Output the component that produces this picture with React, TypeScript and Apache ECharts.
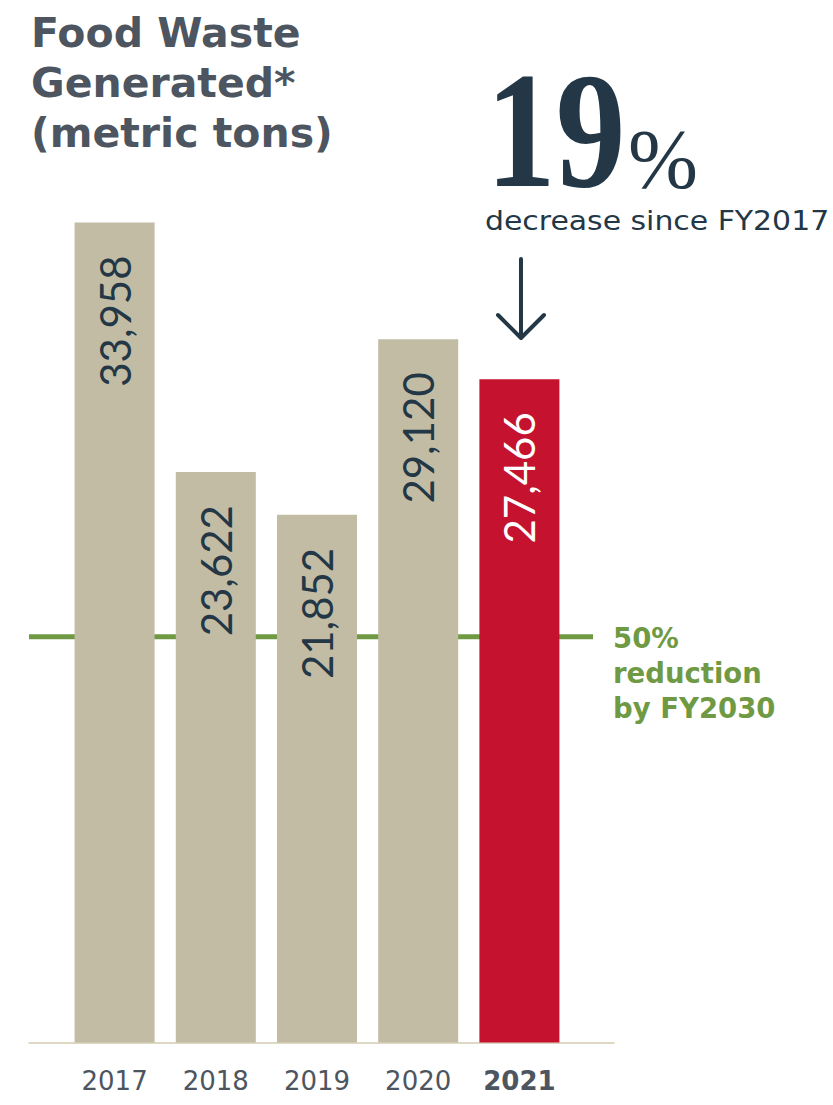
import React, { useEffect, useRef } from 'react';
import * as echarts from 'echarts';

// ---- data ----
const YEARS = ['2017', '2018', '2019', '2020', '2021'];
const WASTE = [33958, 23622, 21852, 29120, 27466];
const HIGHLIGHT_YEAR = '2021';
const TARGET = 16800; // green "50% reduction" line as drawn
const TARGET_LABEL = ['50%', 'reduction', 'by FY2030'];
const TITLE_LINES = ['Food Waste', 'Generated*', '(metric tons)'];
const CHANGE_PCT = '19';
const CHANGE_SIGN = '%';
const CHANGE_TEXT = 'decrease since FY2017';
const Y_MAX = 40000;

const TAN = '#c2bca4';
const RED = '#c4122f';
const NAVY = '#233746';
const GRAY = '#4d5560';
const GREEN = '#6f9a43';

export default function App() {
  const ref = useRef<HTMLDivElement>(null);

  useEffect(() => {
    if (!ref.current) return;
    const chart = echarts.init(ref.current, null, { renderer: 'svg' });

    const gridTop = 76.5;
    const gridBottom = 62.5;

    const option: any = {
      animation: false,
      backgroundColor: '#ffffff',
      title: {
        text: TITLE_LINES.join('\n'),
        left: 26,
        top: 3,
        textStyle: {
          fontFamily: 'DejaVu Sans',
          fontWeight: 'bold',
          fontSize: 41,
          lineHeight: 50,
          color: GRAY,
        },
      },
      grid: [
        { left: 64, width: 506, top: gridTop, bottom: gridBottom, outerBoundsMode: 'none' },
        { left: 29, right: 833 - 593, top: gridTop, bottom: gridBottom, outerBoundsMode: 'none' },
        { left: 29, right: 833 - 614, top: gridTop, bottom: gridBottom, outerBoundsMode: 'none' },
      ],
      xAxis: [
        {
          type: 'category',
          gridIndex: 0,
          data: YEARS,
          axisLine: { show: false },
          axisTick: { show: false },
          axisLabel: {
            interval: 0,
            margin: 25,
            fontFamily: 'DejaVu Sans',
            fontSize: 26,
            color: GRAY,
            formatter: (v: string) => (v === HIGHLIGHT_YEAR ? `{b|${v}}` : v),
            rich: {
              b: { fontFamily: 'DejaVu Sans', fontSize: 26, fontWeight: 'bold', color: GRAY },
            },
          },
        },
        { type: 'value', gridIndex: 1, min: 0, max: 1, show: false },
        {
          type: 'value',
          gridIndex: 2,
          min: 0,
          max: 1,
          axisLine: { show: true, onZero: false, lineStyle: { color: '#d3cbb0', width: 1.5 } },
          axisTick: { show: false },
          axisLabel: { show: false },
          splitLine: { show: false },
        },
      ],
      yAxis: [
        { type: 'value', gridIndex: 0, min: 0, max: Y_MAX, show: false },
        { type: 'value', gridIndex: 1, min: 0, max: Y_MAX, show: false },
        { type: 'value', gridIndex: 2, min: 0, max: Y_MAX, show: false },
      ],
      series: [
        {
          type: 'line',
          xAxisIndex: 1,
          yAxisIndex: 1,
          data: [
            [0, TARGET],
            [1, TARGET],
          ],
          symbol: 'none',
          silent: true,
          lineStyle: { color: GREEN, width: 5, cap: 'butt' },
          z: 1,
          endLabel: {
            show: true,
            formatter: TARGET_LABEL.join('\n'),
            distance: 20,
            offset: [0, 36],
            align: 'left',
            verticalAlign: 'middle',
            fontFamily: 'DejaVu Sans',
            fontWeight: 'bold',
            fontSize: 27.5,
            lineHeight: 35,
            color: GREEN,
          },
        },
        {
          type: 'bar',
          xAxisIndex: 0,
          yAxisIndex: 0,
          barWidth: 80,
          z: 3,
          data: WASTE.map((v, i) => {
            const hi = YEARS[i] === HIGHLIGHT_YEAR;
            return {
              value: v,
              itemStyle: { color: hi ? RED : TAN },
              label: { color: hi ? '#ffffff' : NAVY },
            };
          }),
          label: {
            show: true,
            position: 'insideTop',
            distance: 33,
            rotate: 90,
            align: 'right',
            verticalAlign: 'middle',
            fontFamily: 'Lato',
            fontWeight: 'normal',
            fontSize: 42,
            formatter: (p: any) => Number(p.value).toLocaleString('en-US'),
          },
        },
      ],
      graphic: [
        {
          type: 'text',
          x: 486,
          y: 47,
          scaleX: 0.84,
          style: {
            text: CHANGE_PCT,
            fontFamily: 'Liberation Serif',
            fontWeight: 'bold',
            fontSize: 166,
            fill: NAVY,
            verticalAlign: 'top',
          },
        },
        {
          type: 'text',
          x: 628,
          y: 201,
          style: {
            text: CHANGE_SIGN,
            fontFamily: 'Liberation Serif',
            fontSize: 84,
            fill: NAVY,
            verticalAlign: 'bottom',
          },
        },
        {
          type: 'text',
          x: 485,
          y: 221,
          scaleX: 1.15,
          style: {
            text: CHANGE_TEXT,
            fontFamily: 'DejaVu Sans',
            fontSize: 26,
            fill: NAVY,
            verticalAlign: 'middle',
          },
        },
        {
          type: 'line',
          shape: { x1: 521, y1: 259, x2: 521, y2: 337 },
          style: { stroke: NAVY, lineWidth: 4, lineCap: 'round' },
        },
        {
          type: 'polyline',
          shape: {
            points: [
              [498, 315],
              [521, 338],
              [544, 315],
            ],
          },
          style: { stroke: NAVY, lineWidth: 4, lineCap: 'round', lineJoin: 'round', fill: 'none' },
        },
      ],
    };

    chart.setOption(option);
    return () => chart.dispose();
  }, []);

  return (
    <div
      ref={ref}
      style={{ position: 'absolute', left: 0, top: 0, width: 833, height: 1105, background: '#fff' }}
    />
  );
}
